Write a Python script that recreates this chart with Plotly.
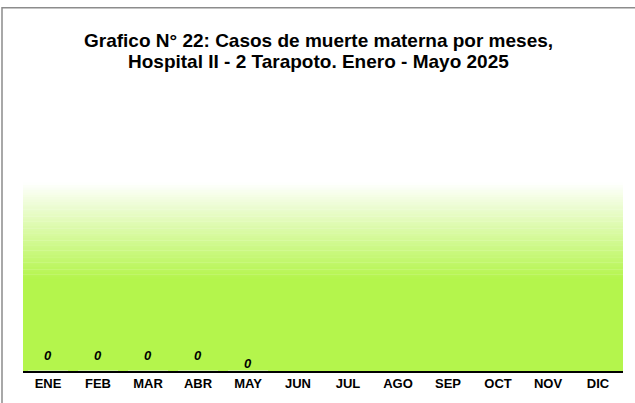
import plotly.graph_objects as go

meses = ["ENE", "FEB", "MAR", "ABR", "MAY", "JUN", "JUL", "AGO", "SEP", "OCT", "NOV", "DIC"]
casos = [0, 0, 0, 0, 0]  # Enero - Mayo 2025
titulo = ["Grafico N° 22: Casos de muerte materna por meses,",
          "Hospital II - 2 Tarapoto. Enero - Mayo 2025"]

W, H = 635, 403
L, R, T, B = 23, 12, 183, 27
plot_h = H - T - B

fig = go.Figure()
fig.add_trace(go.Bar(x=meses[:len(casos)], y=casos, marker_color="#4472C4", showlegend=False, hoverinfo="x+y"))

def px_to_paper(py):
    return (H - B - py) / plot_h

# gradient background (white -> lime)
lime = (180, 245, 76)
shapes = []
y_top_px, y_full_px = 183, 282
n = 40
for i in range(n):
    a = y_top_px + (y_full_px - y_top_px) * i / n
    b = y_top_px + (y_full_px - y_top_px) * (i + 1) / n
    t = (i + 0.5) / n
    c = tuple(round(255 + (lime[k] - 255) * t) for k in range(3))
    shapes.append(dict(type="rect", xref="paper", yref="paper", x0=0, x1=1,
                       y0=px_to_paper(b), y1=px_to_paper(a) + 0.002,
                       fillcolor="rgb(%d,%d,%d)" % c, line_width=0, layer="below"))
shapes.append(dict(type="rect", xref="paper", yref="paper", x0=0, x1=1,
                   y0=0, y1=px_to_paper(y_full_px) + 0.002,
                   fillcolor="rgb(%d,%d,%d)" % lime, line_width=0, layer="below"))
# outer chart border
pw = W - L - R
shapes.append(dict(type="rect", xref="paper", yref="paper",
                   x0=(2 - L) / pw, x1=(W + 20 - L) / pw,
                   y0=px_to_paper(H + 20), y1=px_to_paper(3),
                   line=dict(color="#8c8c8c", width=1.5), fillcolor="rgba(0,0,0,0)", layer="above"))

annotations = []
for i, v in enumerate(casos):
    annotations.append(dict(x=meses[i], y=v, xref="x", yref="y", text=str(v),
                            showarrow=False, yanchor="middle",
                            yshift=16 if i < 4 else 8,
                            font=dict(family="Liberation Sans", size=13, color="#000000",
                                      weight="bold", style="italic")))
for line, py in zip(titulo, [37, 58]):
    annotations.append(dict(x=(318 - L) / pw, y=px_to_paper(py), xref="paper", yref="paper",
                            text=line, showarrow=False, xanchor="center", yanchor="middle",
                            font=dict(family="Liberation Sans", size=19, color="#000000", weight="bold")))

fig.update_layout(
    width=W, height=H,
    margin=dict(l=L, r=R, t=T, b=B),
    paper_bgcolor="white", plot_bgcolor="rgba(0,0,0,0)",
    shapes=shapes, annotations=annotations,
    xaxis=dict(type="category", categoryorder="array", categoryarray=meses,
               range=[-0.5, 11.5], showline=True, linecolor="#000000", linewidth=1.5,
               showgrid=False, ticks="", zeroline=False, fixedrange=True,
               tickfont=dict(family="Liberation Sans", size=13, color="#000000", weight="bold")),
    yaxis=dict(range=[0, 1], visible=False, fixedrange=True),
)
fig.add_trace(go.Scatter(x=meses, y=[None] * len(meses), showlegend=False, hoverinfo="skip"))

fig.write_html(
    "out.html", config={"displayModeBar": False},
    post_script=("document.body.style.margin='0';document.body.style.overflow='hidden';"
                 "var d=document.getElementById('{plot_id}');"
                 "d.style.position='fixed';d.style.top='0px';d.style.left='0px';"))
